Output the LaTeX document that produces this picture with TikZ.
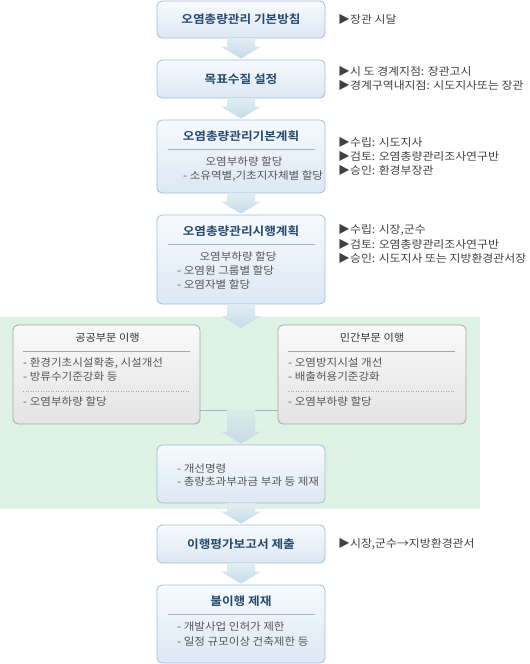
\documentclass[tikz,border=0pt]{standalone}
\usepackage{fontspec}
\setmainfont{Noto Sans CJK KR}[BoldFont={Noto Sans CJK KR Bold}, FakeStretch=1.1]
\usetikzlibrary{calc}
\definecolor{grn}{HTML}{DEF2E5}
\definecolor{bxline}{HTML}{A5BDD6}
\definecolor{bxtop}{HTML}{F6FAFD}
\definecolor{bxbot}{HTML}{DCE8F4}
\definecolor{gyline}{HTML}{A8A8A8}
\definecolor{gytop}{HTML}{F9F9F9}
\definecolor{gybot}{HTML}{E4E4E4}
\definecolor{arrtop}{HTML}{E2EEF3}
\definecolor{arrbot}{HTML}{C4DBE6}
\definecolor{ttlc}{HTML}{25486E}
\definecolor{bodc}{HTML}{555555}
\definecolor{annc}{HTML}{404040}
\definecolor{subc}{HTML}{333333}
\definecolor{seplc}{HTML}{A3B6CA}
\definecolor{linkc}{HTML}{9DB5CF}
\newcommand\blkarrow[3][arrtop]{%
  \path[top color=#1, bottom color=arrbot]
    ($(#2)+(-14,0)$) -- ($(#2)+(14,0)$) -- ($(#3)+(14,-13)$) -- ($(#3)+(20,-13)$)
    -- ($(#3)+(0,-1)$) -- ($(#3)+(-20,-13)$) -- ($(#3)+(-14,-13)$) -- cycle;}
\begin{document}
\begin{tikzpicture}[x=1pt,y=-1pt,
  mainbox/.style={draw=bxline, line width=0.8pt, rounded corners=5pt, top color=bxtop, bottom color=bxbot, minimum width=168pt, inner sep=0pt},
  sidebox/.style={draw=gyline, line width=0.8pt, rounded corners=5pt, top color=gytop, bottom color=gybot, inner sep=0pt},
  ttl/.style={font=\fontsize{11.5pt}{13pt}\selectfont\bfseries, text=ttlc, inner sep=0pt},
  sub/.style={font=\fontsize{10.2pt}{13pt}\selectfont, text=subc, inner sep=0pt},
  bod/.style={font=\fontsize{10.5pt}{12pt}\selectfont, text=bodc, inner sep=0pt},
  ann/.style={font=\fontsize{10.8pt}{13pt}\selectfont, text=annc, inner sep=0pt, anchor=west},
  sepl/.style={draw=seplc, line width=0.7pt},
  gsep/.style={draw=gyline, line width=0.6pt},
  gdot/.style={draw=gyline, line width=0.6pt, dash pattern=on 0.8pt off 1.7pt},
  link/.style={draw=linkc, line width=0.8pt}
]
\useasboundingbox (0,0) rectangle (530,664);
% green region
\fill[grn] (0,317) rectangle (480,509);

% main boxes
\node[mainbox, minimum height=37pt] (b1) at (241,19.5) {};
\node[mainbox, minimum height=38pt] (b2) at (241,79) {};
\node[mainbox, minimum height=73pt] (b3) at (241,156.5) {};
\node[mainbox, minimum height=89pt] (b4) at (241,259.5) {};
\node[sidebox, minimum width=187pt, minimum height=99pt] (pub) at (106.5,374.5) {};
\node[sidebox, minimum width=188pt, minimum height=99pt] (pri) at (372,374.5) {};
\node[mainbox, minimum height=58pt] (b5) at (241,474) {};
\node[mainbox, minimum height=38pt] (b6) at (241,544) {};
\node[mainbox, minimum height=78pt] (b7) at (241,624) {};

\coordinate (gt) at (241,329);
\coordinate (lj) at (241,410);

% connectors
\blkarrow{b1.south}{b2.north}
\blkarrow{b2.south}{b3.north}
\blkarrow{b3.south}{b4.north}
\blkarrow{b4.south}{gt}
\draw[link] (pub.east |- lj) -- (pri.west |- lj);
\blkarrow[arrbot!20!grn]{lj}{b5.north}
\blkarrow{b5.south}{b6.north}
\blkarrow{b6.south}{b7.north}

% box 1
\node[ttl] (t1) at (241,19.5) {오염총량관리 기본방침};
\node[ann] (a1) at (338,19) {▶장관 시달};
% box 2
\node[ttl] (t2) at (241,79) {목표수질 설정};
\node[ann] (a2a) at (338,71) {▶시 도 경계지점: 장관고시};
\node[ann] (a2b) at (338,85) {▶경계구역내지점: 시도지사또는 장관};
% box 3
\node[ttl] (t3) at (241,136) {오염총량관리기본계획};
\draw[sepl] (168,149) -- (315,149);
\node[bod] (t3a) at (244,162) {오염부하량 할당};
\node[bod, anchor=west] (t3b) at (183,176) {- 소유역별,기초지자체별 할당};
\node[ann] (a3a) at (338,142) {▶수립: 시도지사};
\node[ann] (a3b) at (338,156) {▶검토: 오염총량관리조사연구반};
\node[ann] (a3c) at (338,170) {▶승인: 환경부장관};
% box 4
\node[ttl] (t4) at (241,231) {오염총량관리시행계획};
\draw[sepl] (168,244) -- (315,244);
\node[bod] (t4a) at (238,257) {오염부하량 할당};
\node[bod, anchor=west] (t4b) at (177,271) {- 오염원 그룹별 할당};
\node[bod, anchor=west] (t4c) at (177,285) {- 오염자별 할당};
\node[ann] (a4a) at (338,230) {▶수립: 시장,군수};
\node[ann] (a4b) at (338,244) {▶검토: 오염총량관리조사연구반};
\node[ann] (a4c) at (338,258) {▶승인: 시도지사 또는 지방환경관서장};
% public
\node[sub] (tp) at (107.5,338) {공공부문 이행};
\draw[gsep] (23,351) -- (190,351);
\node[bod, anchor=west] (tpa) at (23,363) {- 환경기초시설확충, 시설개선};
\node[bod, anchor=west] (tpb) at (23,377) {- 방류수기준강화 등};
\draw[gdot] (23,391) -- (190,391);
\node[bod, anchor=west] (tpc) at (23,402) {- 오염부하량 할당};
% private
\node[sub] (tq) at (372,338) {민간부문 이행};
\draw[gsep] (288,351) -- (455,351);
\node[bod, anchor=west] (tqa) at (288,363) {- 오염방지시설 개선};
\node[bod, anchor=west] (tqb) at (288,377) {- 배출허용기준강화};
\draw[gdot] (288,391) -- (455,391);
\node[bod, anchor=west] (tqc) at (288,402) {- 오염부하량 할당};
% box 5
\node[bod, anchor=west] (t5a) at (177,469) {- 개선명령};
\node[bod, anchor=west] (t5b) at (177,482) {- 총량초과부과금 부과 등 제재};
% box 6
\node[ttl] (t6) at (241,544) {이행평가보고서 제출};
\node[ann] (a6) at (338,544) {▶시장,군수→지방환경관서};
% box 7
\node[ttl] (t7) at (241,601) {불이행 제재};
\draw[sepl] (168,614) -- (315,614);
\node[bod, anchor=west] (t7a) at (177,627) {- 개발사업 인허가 제한};
\node[bod, anchor=west] (t7b) at (177,642) {- 일정 규모이상 건축제한 등};
\end{tikzpicture}
\end{document}
